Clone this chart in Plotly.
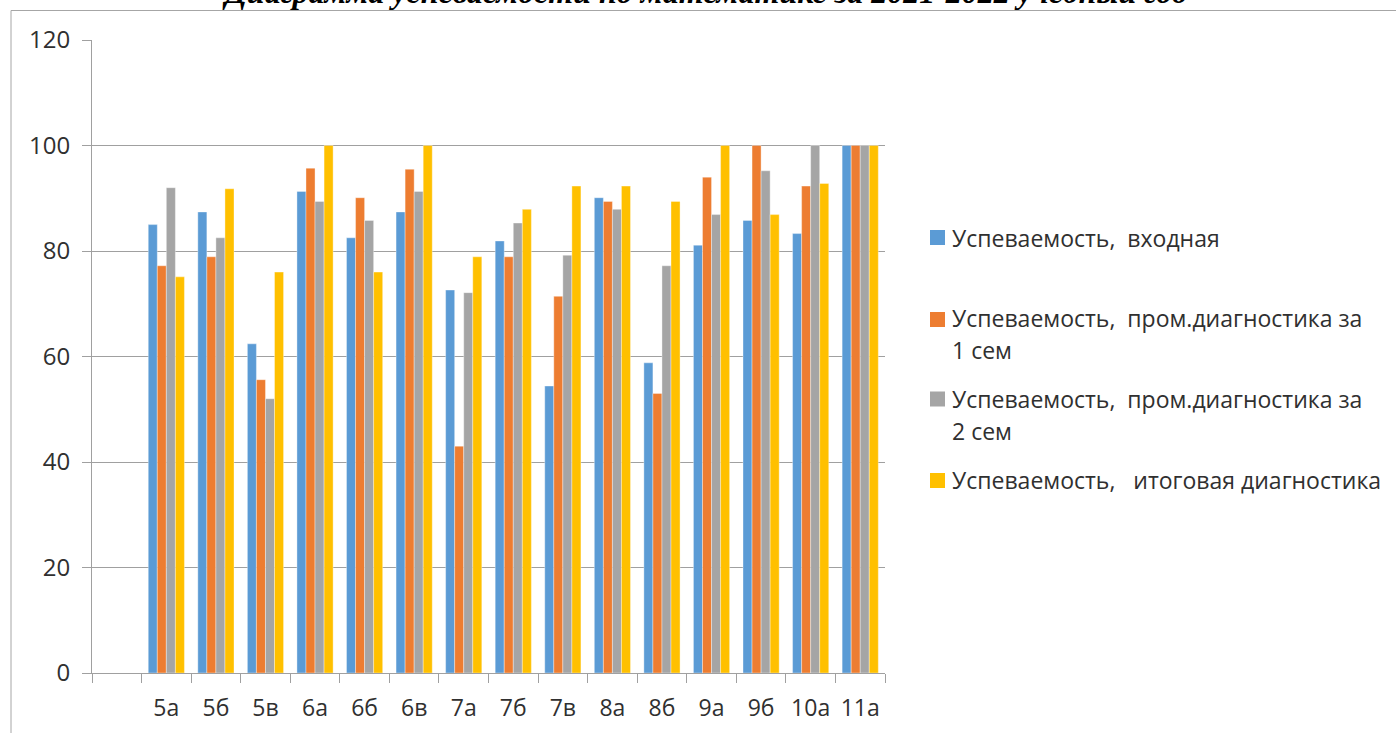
import plotly.graph_objects as go

categories = ["5а", "5б", "5в", "6а", "6б", "6в", "7а", "7б", "7в", "8а", "8б", "9а", "9б", "10а", "11а"]

vhodnaya = [85.0, 87.4, 62.4, 91.3, 82.5, 87.4, 72.6, 81.9, 54.4, 90.1, 58.8, 81.1, 85.8, 83.3, 100]
sem1 = [77.2, 78.9, 55.6, 95.7, 90.1, 95.5, 43.0, 78.9, 71.4, 89.4, 53.0, 94.0, 100, 92.3, 100]
sem2 = [92.0, 82.5, 52.0, 89.4, 85.8, 91.3, 72.1, 85.3, 79.2, 87.9, 77.2, 86.9, 95.2, 100, 100]
itog = [75.1, 91.8, 76.0, 100, 76.0, 100, 78.9, 87.9, 92.3, 92.3, 89.4, 100, 86.9, 92.8, 100]

series_names = [
    "Успеваемость,  входная",
    "Успеваемость,  пром.диагностика за<br>1 сем",
    "Успеваемость,  пром.диагностика за<br>2 сем",
    "Успеваемость,   итоговая диагностика",
]
series_values = [vhodnaya, sem1, sem2, itog]
colors = ["#5B9BD5", "#ED7D31", "#A5A5A5", "#FFC000"]

title_text = "Диаграмма успеваемости по математике за 2021-2022 учебный год"

W, H = 1396, 733
L, R, T, B = 92, 885, 40, 673
TXT = "#303030"

def px(x):
    return (x - L) / (R - L)

def py(y):
    return (B - y) / (B - T)

x_all = [" "] + categories

fig = go.Figure()
for name, vals, col in zip(series_names, series_values, colors):
    fig.add_trace(go.Bar(
        x=x_all, y=[None] + vals, name=name.replace("<br>", " "),
        marker=dict(color=col, line=dict(color="rgba(255,255,255,0.6)", width=0.6)),
        showlegend=False,
    ))

# manual legend (square key + text lines), positions in page pixels
legend_square_top = [230, 312, 391.5, 473]
legend_line_y = [[238], [318, 350], [399, 431], [480]]
shapes = []
annotations = []
for name, col, sq, lys in zip(series_names, colors, legend_square_top, legend_line_y):
    shapes.append(dict(
        type="rect", xref="paper", yref="paper",
        x0=px(930), x1=px(945), y0=py(sq + 15), y1=py(sq),
        line=dict(width=0), fillcolor=col,
    ))
    for line_text, ly in zip(name.split("<br>"), lys):
        annotations.append(dict(
            text=line_text, xref="paper", yref="paper",
            x=px(950), y=py(ly), xanchor="left", yanchor="middle",
            showarrow=False,
            font=dict(family="Open Sans", size=23, color=TXT),
        ))

shapes.append(dict(
    type="rect", xref="paper", yref="paper",
    x0=px(11), x1=px(1410), y0=py(745), y1=py(10.5),
    line=dict(color="#A6A6A6", width=1), fillcolor="rgba(0,0,0,0)", layer="above",
))
annotations.append(dict(
    text="<b><i>" + title_text + "</i></b>",
    xref="paper", yref="paper", x=px(705), y=py(12),
    xanchor="center", yanchor="bottom", showarrow=False,
    font=dict(family="Liberation Serif", size=32, color="black"),
))

fig.update_layout(
    width=W, height=H,
    margin=dict(l=L, r=W - R, t=T, b=H - B, pad=0, autoexpand=False),
    plot_bgcolor="white", paper_bgcolor="white",
    barmode="group", bargap=0.27, bargroupgap=0,
    font=dict(family="Open Sans", size=24, color=TXT),
    showlegend=False,
    xaxis=dict(
        type="category", categoryorder="array", categoryarray=x_all,
        range=[-0.5, len(x_all) - 0.5],
        showline=True, linecolor="#A0A0A0", linewidth=1,
        ticks="outside", tickson="boundaries", ticklen=9, tickcolor="#A0A0A0",
        tickfont=dict(family="Open Sans", size=23, color=TXT),
        tickangle=0, automargin=False,
        ticklabelstandoff=14,
        showgrid=False, zeroline=False, fixedrange=True,
    ),
    yaxis=dict(
        range=[0, 120], tickvals=[0, 20, 40, 60, 80, 100, 120],
        showline=True, linecolor="#A0A0A0", linewidth=1,
        ticks="outside", ticklen=9, tickcolor="#A0A0A0",
        showgrid=True, gridcolor="#A0A0A0", gridwidth=1,
        zeroline=False, automargin=False,
        tickfont=dict(family="Open Sans", size=24, color=TXT),
        ticklabelstandoff=7, fixedrange=True,
    ),
    shapes=shapes,
    annotations=annotations,
)

fig.write_html("out.html", config={"displayModeBar": False},
               post_script="document.body.style.margin='0';")
